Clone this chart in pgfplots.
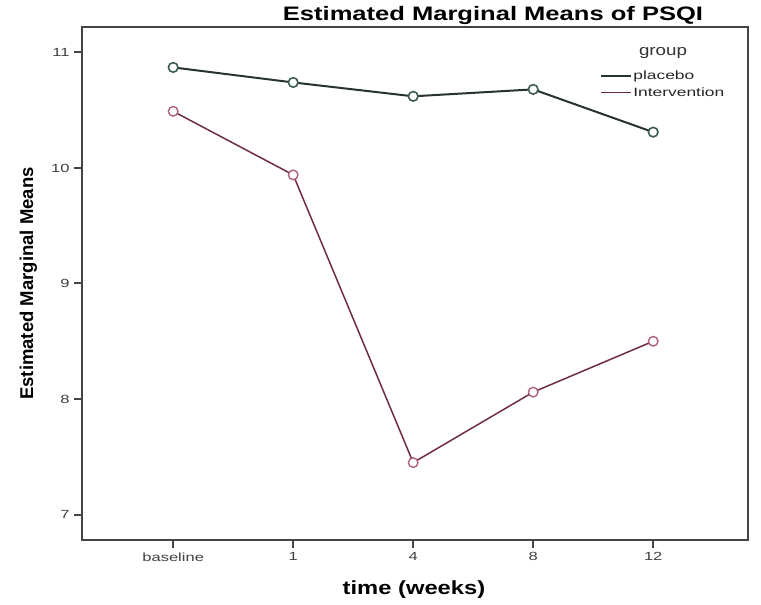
\documentclass[border=0pt]{standalone}
\usepackage{pgfplots}
\pgfplotsset{compat=1.18}
\usepackage{fontspec}
\setmainfont{Liberation Sans}
\definecolor{plac}{HTML}{26332E}
\definecolor{placm}{HTML}{3D5C52}
\definecolor{intv}{HTML}{6E2C45}
\definecolor{intvm}{HTML}{B0607E}
\definecolor{axc}{HTML}{444444}
\newcommand{\tl}[1]{\scalebox{1.4}[1]{#1}}
\begin{document}
\begin{tikzpicture}
\useasboundingbox (-82pt,-65pt) rectangle (679pt,540pt);
\begin{axis}[
  scale only axis,
  width=666pt, height=513pt,
  xmin=-0.76, xmax=4.79,
  ymin=6.78, ymax=11.22,
  axis line style={axc, line width=1.6pt},
  xtick={0,1,2,3,4},
  xticklabels={\tl{baseline},\tl{1},\tl{4},\tl{8},\tl{12}},
  ytick={7,8,9,10,11},
  yticklabels={\tl{7},\tl{8},\tl{9},\tl{10},\tl{11}},
  xtick pos=bottom, ytick pos=left,
  tick align=outside,
  major tick length=8pt,
  every tick/.style={axc, line width=2pt},
  tick label style={font=\fontsize{11.8}{13}\selectfont, text=black!75},
  xticklabel style={yshift=-1pt},
  yticklabel style={xshift=-1pt},
  legend style={draw=none, fill=none, at={(0.778,0.917)}, anchor=north west,
    font=\fontsize{12}{13}\selectfont, inner sep=0pt,
    nodes={inner sep=1pt, text=black!85}, row sep=4.5pt},
  legend cell align=left,
  legend image code/.code={\draw[#1] (0pt,0pt) -- (30pt,0pt);},
]
\addplot[plac, line width=2pt, mark=*, mark size=4.8pt,
  mark options={draw=placm, fill=white, line width=1.6pt}]
  coordinates {(0,10.87) (1,10.74) (2,10.62) (3,10.68) (4,10.31)};
\addlegendentry{\scalebox{1.45}[1]{placebo}}
\addplot[intv, line width=1.5pt, mark=*, mark size=4.8pt,
  mark options={draw=intvm, fill=white, line width=1.4pt}]
  coordinates {(0,10.49) (1,9.94) (2,7.45) (3,8.06) (4,8.50)};
\addlegendentry{\scalebox{1.45}[1]{Intervention}}
\end{axis}
\node[anchor=base, font=\fontsize{19.5}{21}\selectfont\bfseries] at (411pt,519.3pt) {\scalebox{1.31}[1]{Estimated Marginal Means of PSQI}};
\node[anchor=base, font=\fontsize{19}{21}\selectfont\bfseries] at (332pt,-55pt) {\scalebox{1.25}[1]{time (weeks)}};
\node[anchor=base, rotate=90, font=\fontsize{18.5}{20}\selectfont\bfseries] at (-49pt,256.5pt) {Estimated Marginal Means};
\node[anchor=base, font=\fontsize{15}{16}\selectfont, text=black!80] at (581pt,484pt) {\scalebox{1.25}[1]{group}};
\end{tikzpicture}
\end{document}
